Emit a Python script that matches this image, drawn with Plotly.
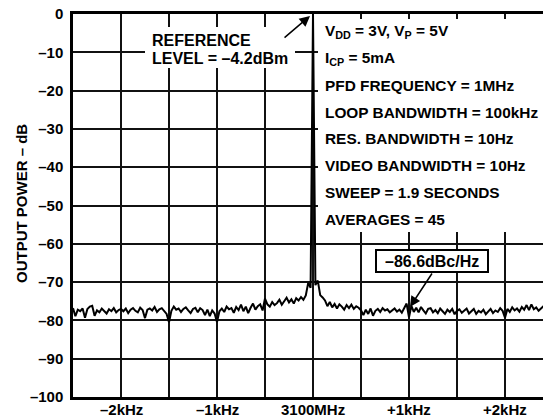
import numpy as np
import plotly.graph_objects as go

# ---------------- data ----------------
sweep_start_khz = -2.5
sweep_stop_khz = 2.5
sweep_points = 201
freq_offset_khz = np.linspace(sweep_start_khz, sweep_stop_khz, sweep_points)

power_db = [
    -76.8, -78.9, -77.2, -77.6, -76.9, -79.3, -77.0, -76.4, -76.2, -78.8, -77.4,
    -77.9, -76.9, -77.5, -78.2, -77.1, -77.6, -76.8, -77.9, -77.3, -77.0,
    -77.6, -76.9, -78.1, -77.2, -76.8, -77.5, -77.9, -76.7, -77.3, -79.4,
    -77.2, -76.9, -77.4, -76.5, -77.8, -77.1, -76.8, -77.6, -78.3, -80.5,
    -77.5, -76.4, -77.2, -76.9, -77.8, -77.0, -76.6, -77.4, -78.1, -77.0,
    -76.7, -77.9, -76.8, -77.3, -78.6, -77.2, -78.9, -77.4, -78.2, -80.4,
    -77.6, -76.9, -77.8, -76.4, -77.1, -76.8, -78.0, -76.5, -77.3, -75.9,
    -77.6, -76.4, -78.1, -76.7, -75.6, -77.2, -76.3, -75.8, -77.4, -74.3,
    -75.8, -76.4, -75.2, -76.0, -75.5, -74.6, -75.9, -75.0, -74.1, -75.3,
    -74.5, -75.6, -74.2, -74.8, -73.9, -74.6, -73.5, -70.2, -71.5,
    0.0,
    -70.8, -69.6, -73.4, -74.0,
    -74.8, -76.3, -75.2, -76.6, -75.7, -76.9, -75.8, -76.4, -77.2, -76.0,
    -76.8, -75.9, -77.0, -76.3, -76.7, -77.4,
    -78.6, -77.2, -78.3, -76.9, -78.8, -77.5, -77.0, -77.8, -76.8, -77.4,
    -77.1, -77.9, -77.3, -76.9, -77.7, -77.2, -78.0, -76.6, -75.6, -79.2,
    -76.2, -77.8, -76.7, -77.9, -76.5, -77.4, -78.2, -77.0, -76.8, -77.9,
    -77.3, -78.1, -76.9, -77.6, -78.3, -77.2, -77.8, -77.0, -78.4, -77.5,
    -77.1, -78.0, -77.4, -76.9, -78.2, -77.6, -77.0, -78.3, -77.5, -77.9,
    -77.2, -78.4, -77.6, -77.0, -78.1, -77.4, -77.8, -76.8, -77.5, -79.3,
    -77.0, -77.8, -76.6, -77.4, -76.9, -77.7, -76.5, -77.2, -76.0, -77.3,
    -75.8, -77.1, -76.6, -77.5, -76.9, -76.3, -77.2, -76.8, -77.4, -77.0,
]
assert len(power_db) == sweep_points

x_grid_vals = [-2.0, -1.5, -1.0, -0.5, 0.0, 0.5, 1.0, 1.5, 2.0]
x_label_vals = [-2.0, -1.0, 0.0, 1.0, 2.0]
x_label_text = ["–2kHz", "–1kHz", "3100MHz", "+1kHz", "+2kHz"]
y_tick_vals = [0, -10, -20, -30, -40, -50, -60, -70, -80, -90, -100]
y_tick_text = ["0", "–10", "–20", "–30", "–40", "–50", "–60", "–70", "–80", "–90", "–100"]

conditions = [
    "V<sub>DD</sub> = 3V, V<sub>P</sub> = 5V",
    "I<sub>CP</sub> = 5mA",
    "PFD FREQUENCY = 1MHz",
    "LOOP BANDWIDTH = 100kHz",
    "RES. BANDWIDTH = 10Hz",
    "VIDEO BANDWIDTH = 10Hz",
    "SWEEP = 1.9 SECONDS",
    "AVERAGES = 45",
]
ref_label = ["REFERENCE", "LEVEL = –4.2dBm"]
noise_label = "–86.6dBc/Hz"
y_title = "OUTPUT POWER – dB"

# ---------------- layout geometry ----------------
W, H = 543, 419
L, R, T, B = 73, 0, 14, 22
PW, PH = W - L - R, H - T - B


def px(x):
    return (x - L) / PW


def py(y):
    return 1 - (y - T) / PH


FONT = "Liberation Sans, Arial, Helvetica, sans-serif"
TXT = dict(family=FONT, size=16, color="black", weight="bold")
COND = dict(family=FONT, size=15.4, color="black", weight="bold")
TICK = dict(family=FONT, size=15, color="black", weight="bold")

fig = go.Figure()
fig.add_trace(go.Scatter(x=freq_offset_khz, y=power_db, mode="lines",
                         line=dict(color="black", width=2), hoverinfo="skip"))

shapes = [
    # white backgrounds for text blocks (cover the grid)
    dict(type="rect", xref="paper", yref="paper", x0=px(318), x1=1.0, y0=py(232), y1=py(19),
         fillcolor="white", line=dict(width=0), layer="above"),
    dict(type="rect", xref="paper", yref="paper", x0=px(145), x1=px(295), y0=py(68), y1=py(27),
         fillcolor="white", line=dict(width=0), layer="above"),
    # boxed noise label
    dict(type="rect", xref="paper", yref="paper", x0=px(376), x1=px(488), y0=py(272), y1=py(250),
         fillcolor="white", line=dict(color="black", width=2), layer="above"),
]

annotations = []
line_ys = [31.7, 58.5, 85.3, 112.1, 138.9, 165.7, 192.4, 219.2]
for txt, yy in zip(conditions, line_ys):
    annotations.append(dict(text=txt, xref="paper", yref="paper", x=px(323), y=py(yy),
                            xanchor="left", yanchor="middle", showarrow=False, font=COND))
for txt, yy in zip(ref_label, [40, 58]):
    annotations.append(dict(text=txt, xref="paper", yref="paper", x=px(150), y=py(yy),
                            xanchor="left", yanchor="middle", showarrow=False, font=TXT))
annotations.append(dict(text=noise_label, xref="paper", yref="paper", x=px(432), y=py(261),
                        xanchor="center", yanchor="middle", showarrow=False, font=TXT))
# x-axis labels
for xv, txt in zip(x_label_vals, x_label_text):
    annotations.append(dict(text=txt, xref="x", yref="paper", x=xv, y=py(418.5),
                            xanchor="center", yanchor="bottom", showarrow=False,
                            borderpad=0, font=TICK))
# arrows
annotations.append(dict(text="", x=-0.031, y=-0.5, xref="x", yref="y", ax=-27, ay=23,
                        showarrow=True, arrowhead=2, arrowsize=1.4, arrowwidth=1.5, arrowcolor="black"))
annotations.append(dict(text="", x=1.01, y=-76.5, xref="x", yref="y", ax=23, ay=-35,
                        showarrow=True, arrowhead=2, arrowsize=1.4, arrowwidth=1.5, arrowcolor="black"))
# y-axis title
annotations.append(dict(text=y_title, xref="paper", yref="paper", x=px(21), y=py(204),
                        xanchor="center", yanchor="middle", textangle=-90, showarrow=False,
                        font=TICK))

fig.update_layout(
    width=W, height=H,
    margin=dict(l=L, r=R, t=T, b=B, pad=0, autoexpand=False),
    plot_bgcolor="white", paper_bgcolor="white",
    showlegend=False,
    font=TICK,
    shapes=shapes, annotations=annotations,
    xaxis=dict(range=[sweep_start_khz, sweep_start_khz + PW / 96.0],
               tickvals=x_grid_vals, showticklabels=False, ticks="",
               showgrid=True, gridcolor="#111", gridwidth=1.5,
               showline=True, linecolor="black", linewidth=2.5, mirror=True,
               zeroline=False, automargin=False),
    yaxis=dict(range=[-100, 0], tickvals=y_tick_vals, ticktext=y_tick_text, ticks="",
               showgrid=True, gridcolor="#111", gridwidth=1.5,
               showline=True, linecolor="black", linewidth=2.5, mirror=False,
               zeroline=False, automargin=False, ticklabelstandoff=4,
               tickfont=TICK),
)

fig.write_html("out.html", config={"displayModeBar": False},
               post_script="document.body.style.margin='0';document.body.style.overflow='hidden';")
